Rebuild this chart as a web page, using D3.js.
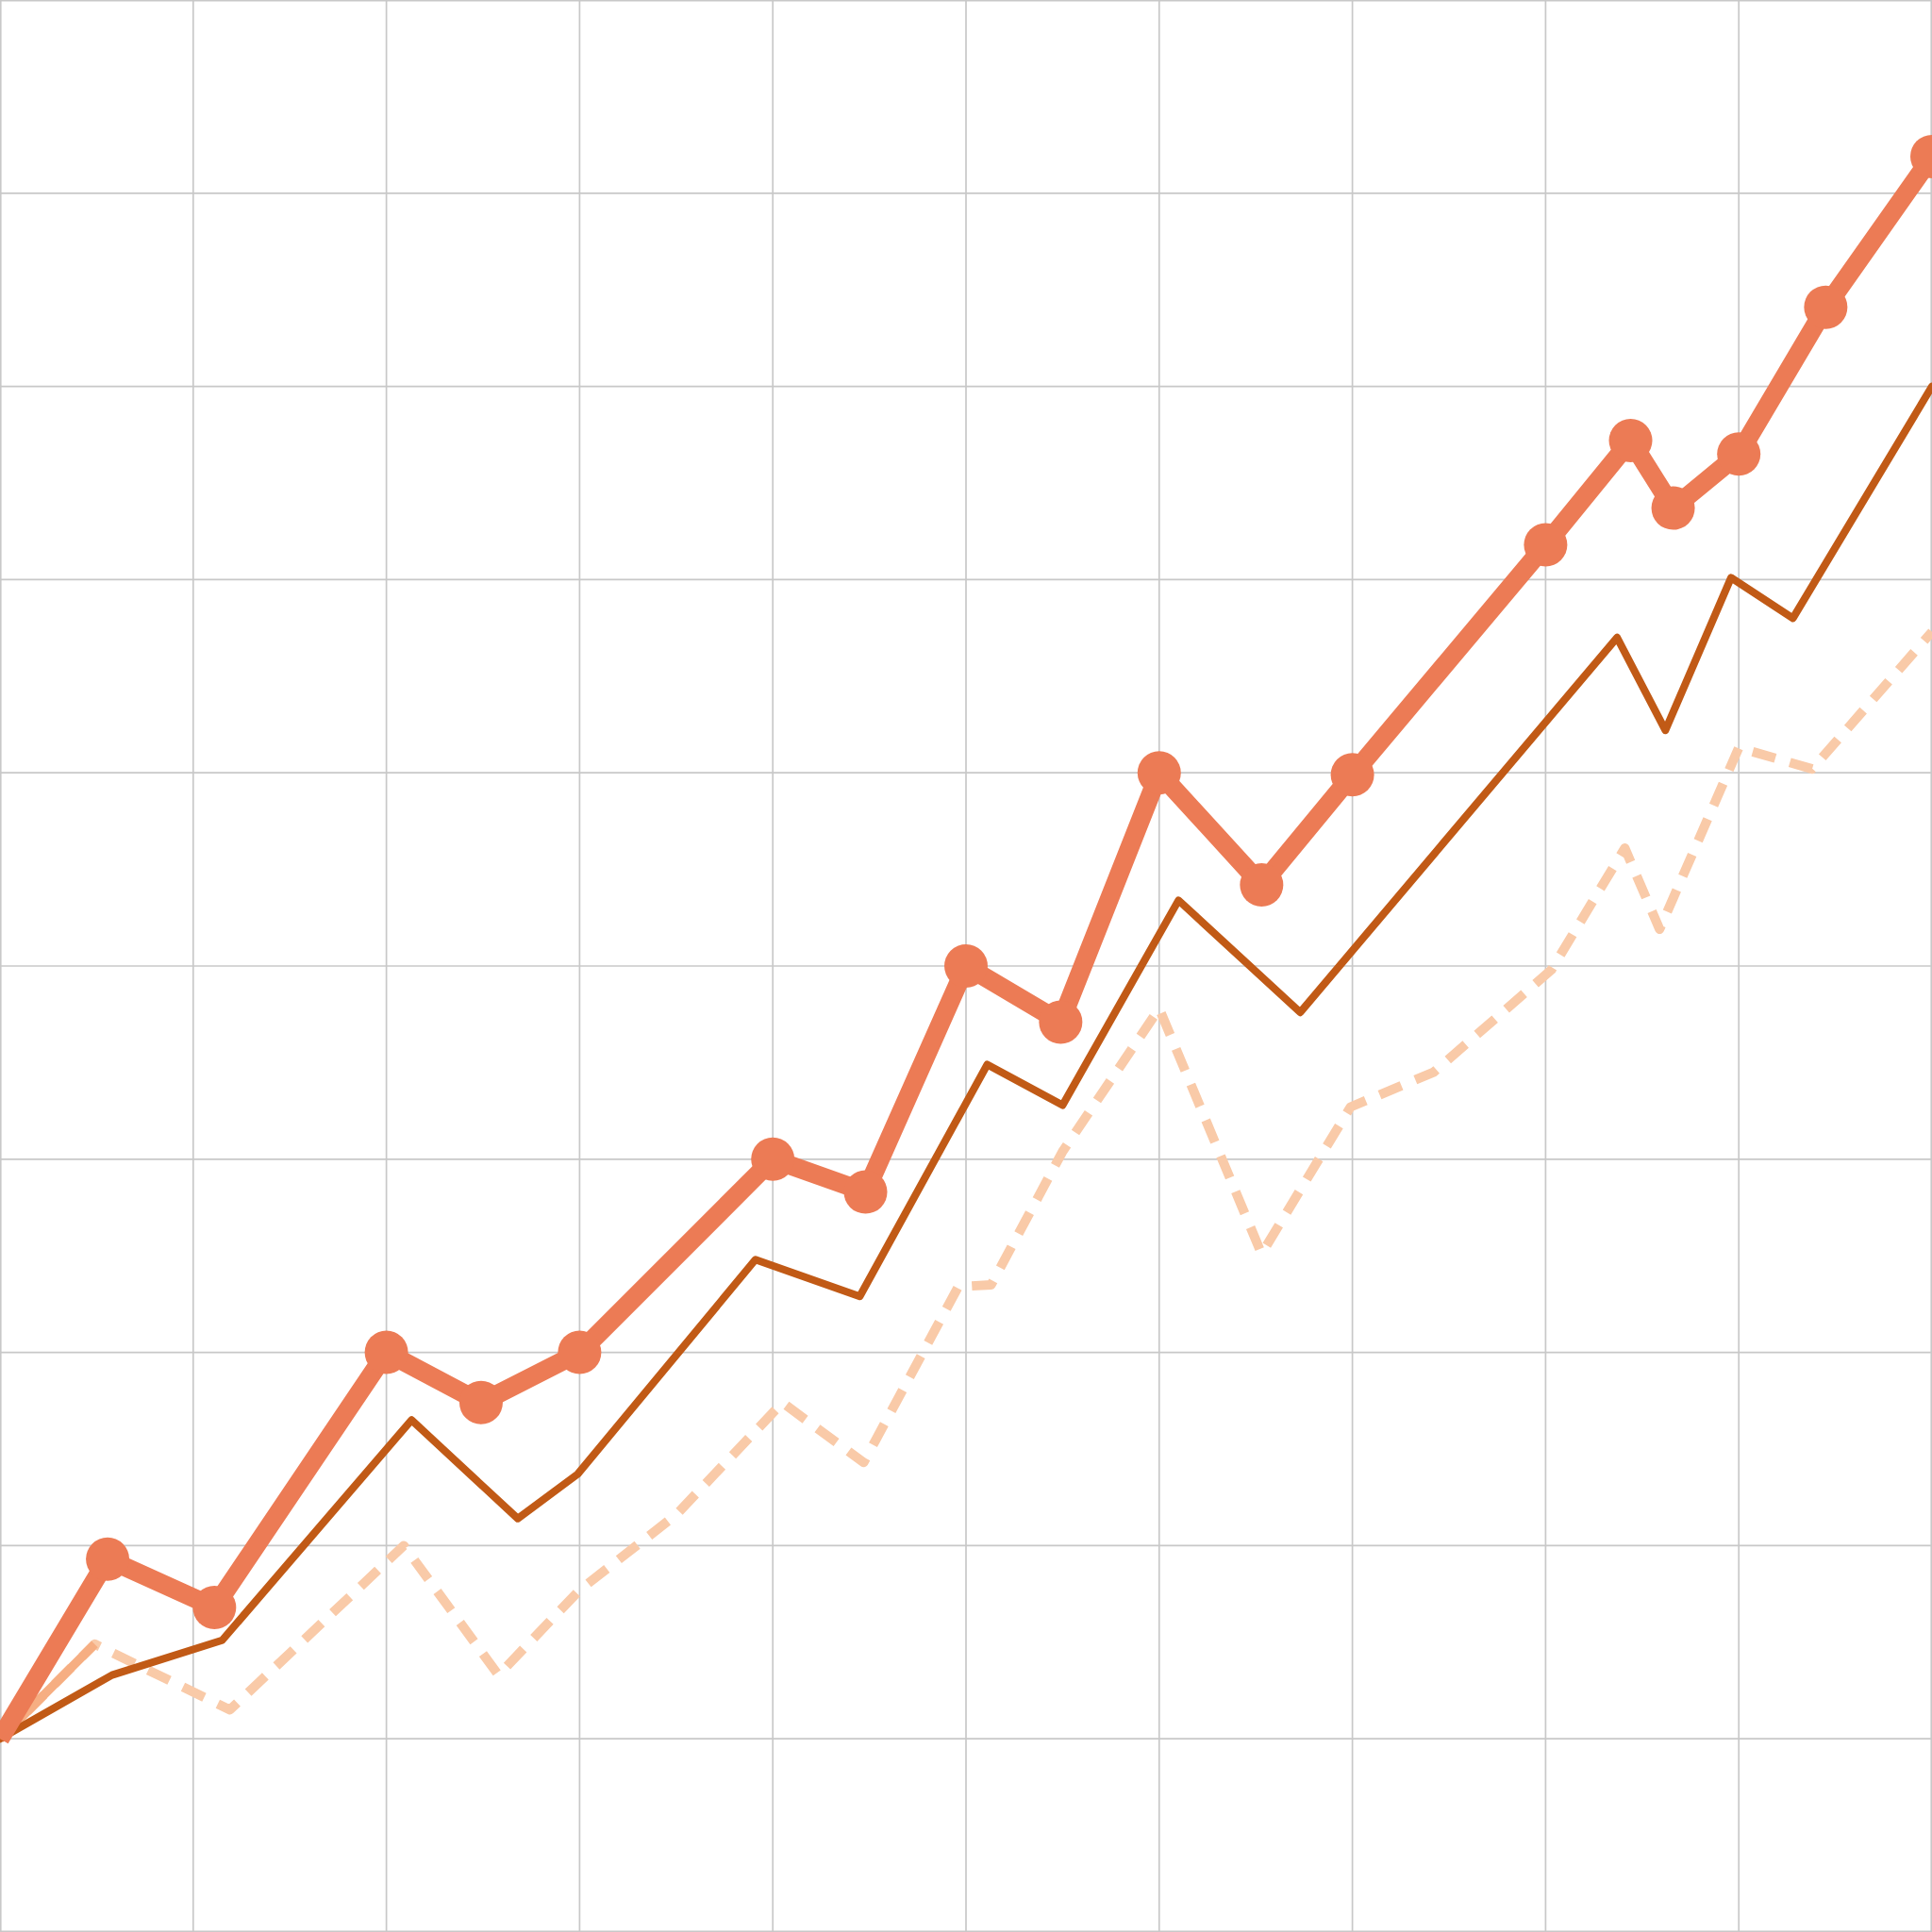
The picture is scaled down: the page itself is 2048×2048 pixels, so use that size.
<!DOCTYPE html>
<html>
<head>
<meta charset="utf-8">
<script src="https://cdn.jsdelivr.net/npm/d3@7"></script>
<style>
  html, body { margin: 0; padding: 0; background: #ffffff; }
  svg { display: block; }
</style>
</head>
<body>
<svg id="chart" width="2048" height="2048"></svg>
<script>
// Grid ticks (both axes, 0..10)
const gridTicks = [0,1,2,3,4,5,6,7,8,9,10];

// Series A: thick line with markers
const seriesAx = [0, 0.557, 1.11, 2.0, 2.49, 3.0, 4.0, 4.48, 5.0, 5.49, 6.0, 6.53, 7.0, 8.0, 8.44, 8.66, 9.0, 9.45, 10];
const seriesAy = [1.0, 1.93, 1.68, 3.0, 2.74, 3.0, 4.0, 3.83, 5.0, 4.71, 6.0, 5.42, 5.99, 7.18, 7.72, 7.37, 7.65, 8.41, 9.19];

// Series B: thin dark line
const seriesBx = [0, 0.58, 1.15, 2.13, 2.68, 2.99, 3.91, 4.45, 5.11, 5.50, 6.10, 6.73, 8.37, 8.62, 8.96, 9.28, 10];
const seriesBy = [1.0, 1.33, 1.51, 2.65, 2.14, 2.37, 3.48, 3.29, 4.49, 4.28, 5.34, 4.76, 6.70, 6.22, 7.01, 6.80, 8.0];

// Series C: light dashed line
const seriesCx = [0, 0.49, 1.19, 2.09, 2.58, 3.0, 3.50, 4.05, 4.47, 4.96, 5.13, 5.50, 6.0, 6.53, 6.99, 7.42, 8.03, 8.41, 8.59, 9.0, 9.38, 10];
const seriesCy = [1.0, 1.49, 1.15, 2.0, 1.33, 1.77, 2.16, 2.74, 2.43, 3.34, 3.35, 4.04, 4.78, 3.51, 4.27, 4.45, 4.98, 5.61, 5.19, 6.13, 6.02, 6.73];

const W = 2048, H = 2048;
const svg = d3.select("#chart");
const x = d3.scaleLinear().domain([0, 10]).range([0, W]);
const y = d3.scaleLinear().domain([0, 10]).range([H, 0]);

svg.append("rect").attr("width", W).attr("height", H).attr("fill", "#ffffff");

const clampPos = (v, max) => Math.min(Math.max(v, 0.75), max - 0.75);

// Grid
const grid = svg.append("g").attr("stroke", "#c8c8c8").attr("stroke-width", 1.7);
grid.selectAll("line.v").data(gridTicks).join("line")
  .attr("class", "v")
  .attr("x1", d => clampPos(x(d), W)).attr("x2", d => clampPos(x(d), W))
  .attr("y1", 0).attr("y2", H);
grid.selectAll("line.h").data(gridTicks).join("line")
  .attr("class", "h")
  .attr("y1", d => clampPos(y(d), H)).attr("y2", d => clampPos(y(d), H))
  .attr("x1", 0).attr("x2", W);

const zip = (xs, ys) => xs.map((v, i) => ({ x: v, y: ys[i] }));
const dataA = zip(seriesAx, seriesAy);
const dataB = zip(seriesBx, seriesBy);
const dataC = zip(seriesCx, seriesCy);

const line = d3.line().x(d => x(d.x)).y(d => y(d.y));

// Series C dashed
svg.append("path")
  .datum(dataC)
  .attr("d", line)
  .attr("fill", "none")
  .attr("stroke", "#f9caa8")
  .attr("stroke-width", 10)
  .attr("stroke-dasharray", "25,16")
  .attr("stroke-linejoin", "round");
// first segment appears solid
svg.append("path")
  .datum(dataC.slice(0, 2))
  .attr("d", line)
  .attr("fill", "none")
  .attr("stroke", "#f6ae82")
  .attr("stroke-width", 9.5);

// Series B
svg.append("path")
  .datum(dataB)
  .attr("d", line)
  .attr("fill", "none")
  .attr("stroke", "#c15a16")
  .attr("stroke-width", 8)
  .attr("stroke-linejoin", "round")
  .attr("stroke-linecap", "round");

// Series A
svg.append("path")
  .datum(dataA)
  .attr("d", line)
  .attr("fill", "none")
  .attr("stroke", "#ec7b55")
  .attr("stroke-width", 20)
  .attr("stroke-linejoin", "round");

svg.append("g").selectAll("circle")
  .data(dataA.slice(1))
  .join("circle")
  .attr("cx", d => x(d.x))
  .attr("cy", d => y(d.y))
  .attr("r", 23)
  .attr("fill", "#ec7b55");
</script>
</body>
</html>
